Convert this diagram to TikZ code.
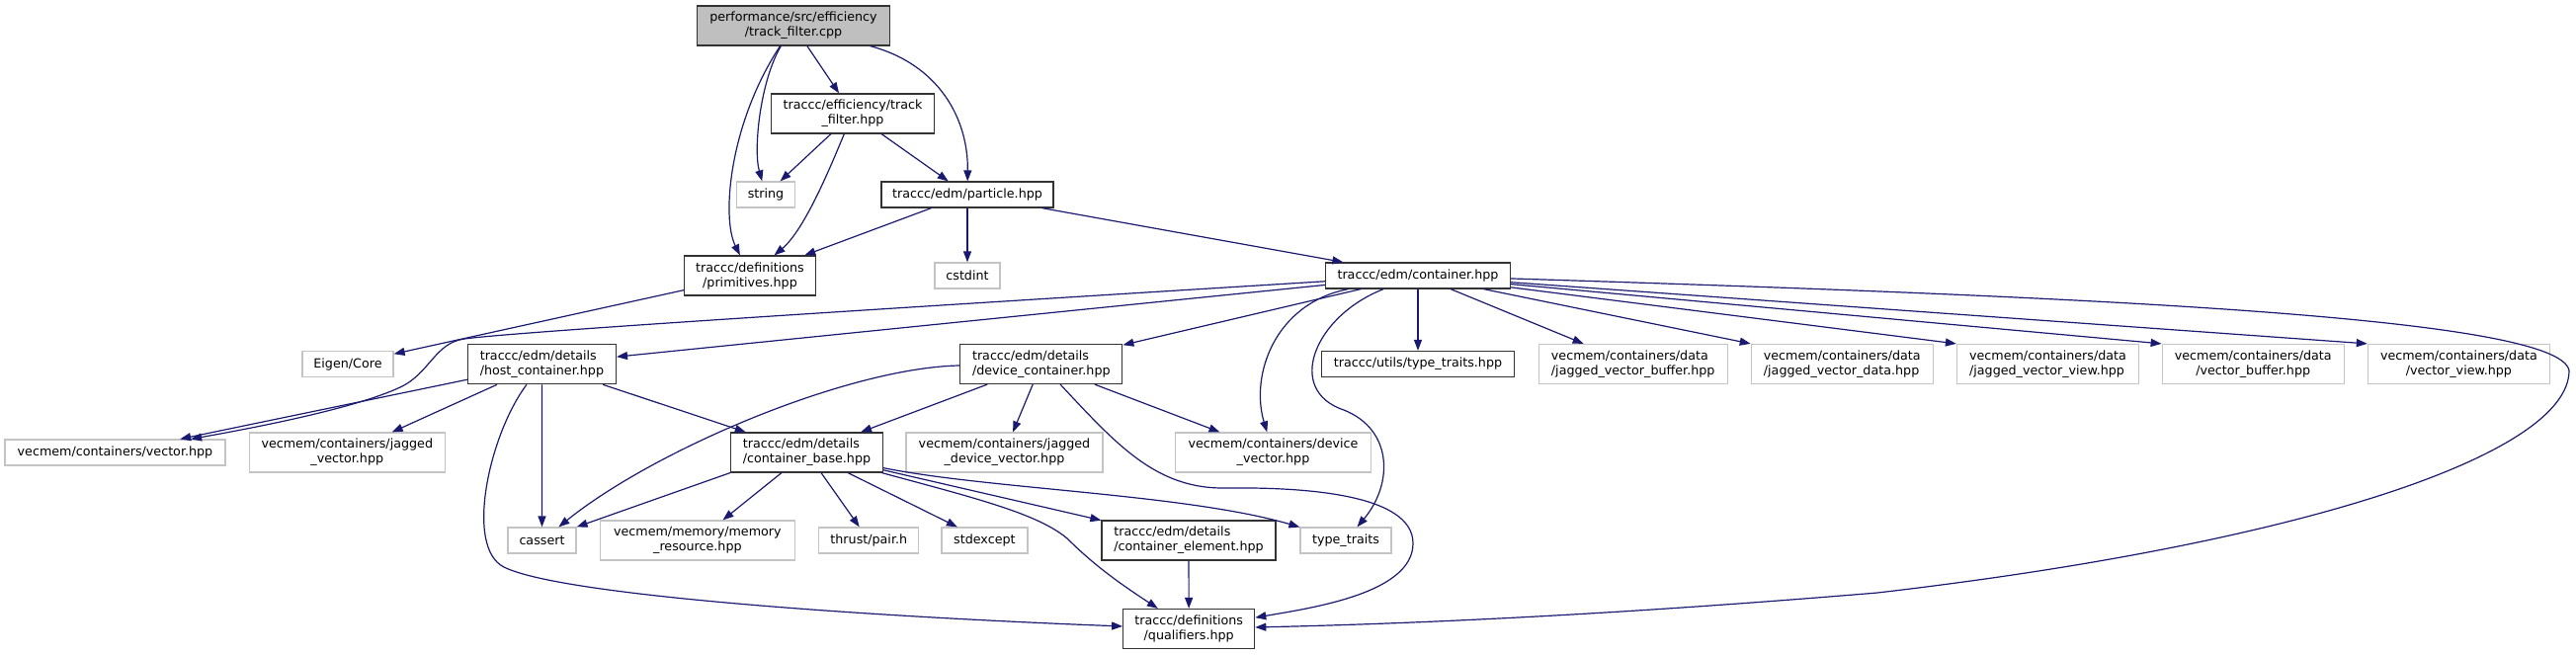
\documentclass[tikz,border=0pt]{standalone}
\usepackage{fontspec}
\setmainfont{DejaVu Sans}
\usetikzlibrary{arrows.meta}
\definecolor{edgecol}{HTML}{191970}
\definecolor{extcol}{HTML}{C4C4C4}
\definecolor{rootfill}{HTML}{BFBFBF}
\begin{document}
\begin{tikzpicture}[x=1pt,y=-1pt,
  font=\fontsize{12.7}{15}\selectfont,
  box/.style={draw, line width=1.2pt, inner sep=0pt, align=center},
  docn/.style={box, draw=black!80, fill=white},
  extn/.style={box, draw=extcol, fill=white},
  rootn/.style={box, draw=black!80, fill=rootfill},
  sz/.style 2 args={minimum width=#1pt, minimum height=#2pt},
  dep/.style={draw=edgecol, line width=1.2pt, -{Triangle[length=11pt,width=8pt]}}]
\useasboundingbox (0,0) rectangle (2607,663);
% nodes
\node[rootn, sz={195}{40}] (root) at (803,26) {performance/src/efficiency\\/track\_filter.cpp};
\node[docn, sz={165}{40}] (tfh) at (863,115) {traccc/efficiency/track\\\_filter.hpp};
\node[extn, sz={59}{26}] (string) at (775,197) {string};
\node[docn, sz={174}{26}] (particle) at (979,197) {traccc/edm/particle.hpp};
\node[docn, sz={133}{40}] (prim) at (759,279) {traccc/definitions\\/primitives.hpp};
\node[extn, sz={66}{26}] (cstdint) at (979,279) {cstdint};
\node[docn, sz={187}{26}] (cont) at (1435,279) {traccc/edm/container.hpp};
\node[extn, sz={92}{26}] (eigen) at (352,368.5) {Eigen/Core};
\node[docn, sz={150}{40}, align=left] (host) at (548.4,368.7) {traccc/edm/details\\/host\_container.hpp};
\node[docn, sz={164}{40}, align=left] (dev) at (1053.8,368.5) {traccc/edm/details\\/device\_container.hpp};
\node[docn, sz={195}{26}] (utt) at (1435,368.5) {traccc/utils/type\_traits.hpp};
\node[extn, sz={191}{40}, align=left] (jvb) at (1652.7,368.5) {vecmem/containers/data\\/jagged\_vector\_buffer.hpp};
\node[extn, sz={184}{40}, align=left] (jvd) at (1864.3,368.5) {vecmem/containers/data\\/jagged\_vector\_data.hpp};
\node[extn, sz={184}{40}, align=left] (jvv) at (2072.5,368.5) {vecmem/containers/data\\/jagged\_vector\_view.hpp};
\node[extn, sz={184}{40}] (vbuf) at (2280.2,368.5) {vecmem/containers/data\\/vector\_buffer.hpp};
\node[extn, sz={184}{40}] (vview) at (2488.4,368.5) {vecmem/containers/data\\/vector\_view.hpp};
\node[extn, sz={223}{26}] (vec) at (116.5,458) {vecmem/containers/vector.hpp};
\node[extn, sz={198}{40}] (jv) at (351.3,458) {vecmem/containers/jagged\\\_vector.hpp};
\node[docn, sz={154}{40}, align=left] (base) at (816.5,458) {traccc/edm/details\\/container\_base.hpp};
\node[extn, sz={199}{40}] (jdv) at (1016.5,458) {vecmem/containers/jagged\\\_device\_vector.hpp};
\node[extn, sz={198}{40}] (dv) at (1288.5,458) {vecmem/containers/device\\\_vector.hpp};
\node[extn, sz={69}{26}] (cassert) at (548.5,547) {cassert};
\node[extn, sz={197}{40}] (mem) at (705.9,547) {vecmem/memory/memory\\\_resource.hpp};
\node[extn, sz={101}{26}] (thrust) at (879.3,547) {thrust/pair.h};
\node[extn, sz={87}{26}] (stdexc) at (996.4,547) {stdexcept};
\node[docn, sz={176}{40}, align=left] (elem) at (1203,547) {traccc/edm/details\\/container\_element.hpp};
\node[extn, sz={92}{26}] (tt) at (1362,547) {type\_traits};
\node[docn, sz={133}{40}] (qual) at (1203.2,636.5) {traccc/definitions\\/qualifiers.hpp};
% edges from root
\draw[dep] (root) -- (tfh);
\draw[dep] (root) .. controls (770,80) and (762,150) .. (string);
\draw[dep] (root) .. controls (950,65) and (980,120) .. (particle);
\draw[dep] (root) .. controls (738,125) and (730,220) .. (prim);
% track_filter.hpp
\draw[dep] (tfh) -- (string);
\draw[dep] (tfh) .. controls (842,165) and (815,232) .. (prim);
\draw[dep] (tfh) -- (particle);
% particle
\draw[dep] (particle) -- (prim);
\draw[dep] (particle) -- (cstdint);
\draw[dep] (particle) -- (cont);
% primitives
\draw[dep] (prim) -- (eigen);
% container
\draw[dep] (cont) -- (host);
\draw[dep] (cont) .. controls (900,312) and (520,336) .. (470,343)
  .. controls (440,347) and (435,378) .. (405,392)
  .. controls (360,413) and (263,432) .. (vec);
\draw[dep] (cont) -- (dev);
\draw[dep] (cont) .. controls (1290,307) and (1265,380) .. (dv);
\draw[dep] (cont) -- (utt);
\draw[dep] (cont) -- (jvb);
\draw[dep] (cont) -- (jvd.north west);
\draw[dep] (cont) -- (jvv.north west);
\draw[dep] (cont) -- (vbuf.north west);
\draw[dep] (cont) -- (vview.north west);
\draw[dep] (cont) .. controls (1330,320) and (1300,395) .. (1360,415)
  .. controls (1410,435) and (1410,490) .. (tt);
\draw[dep] (cont) .. controls (2100,300) and (2590,320) .. (2600,375)
  .. controls (2600,460) and (2330,550) .. (1900,600)
  .. controls (1600,625) and (1400,632) .. (qual);
% host container
\draw[dep] (host) -- (vec);
\draw[dep] (host) -- (jv);
\draw[dep] (host) -- (cassert);
\draw[dep] (host) -- (base);
\draw[dep] (host) .. controls (495,440) and (470,554) .. (510,574)
  .. controls (570,604) and (900,625) .. (qual);
% device container
\draw[dep] (dev) -- (base);
\draw[dep] (dev) -- (jdv);
\draw[dep] (dev) -- (dv);
\draw[dep] (dev) .. controls (860,372) and (664,454) .. (cassert);
\draw[dep] (dev) .. controls (1130,450) and (1170,495) .. (1240,494)
  .. controls (1320,493) and (1430,500) .. (1430,550)
  .. controls (1430,600) and (1330,615) .. (qual);
% container base
\draw[dep] (base.south west) -- (cassert.north east);
\draw[dep] (base) -- (mem);
\draw[dep] (base) -- (thrust);
\draw[dep] (base) -- (stdexc);
\draw[dep] (base) -- (elem);
\draw[dep] (base) .. controls (990,505) and (1050,520) .. (1080,545)
  .. controls (1110,575) and (1140,595) .. (qual);
\draw[dep] (base) .. controls (1000,495) and (1200,500) .. (tt);
% container element
\draw[dep] (elem) -- (qual);
\end{tikzpicture}
\end{document}
